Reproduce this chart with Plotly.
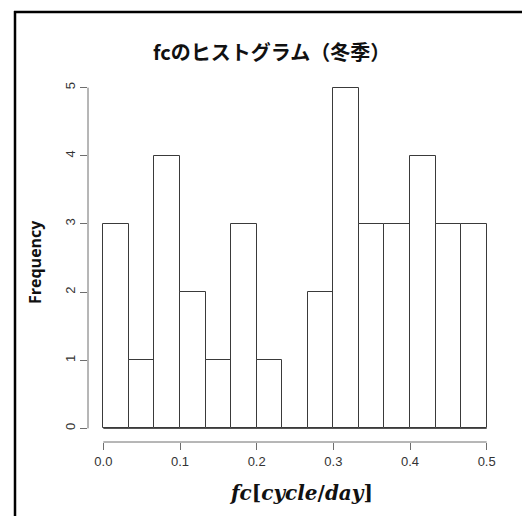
import numpy as np
import plotly.graph_objects as go

# ---- data ----
bin_start = 0.0
bin_end = 0.5
n_bins = 15
counts = [3, 1, 4, 2, 1, 3, 1, 0, 2, 5, 3, 3, 4, 3, 3]
x_ticks = [0.0, 0.1, 0.2, 0.3, 0.4, 0.5]
x_tick_labels = ["0.0", "0.1", "0.2", "0.3", "0.4", "0.5"]
y_ticks = [0, 1, 2, 3, 4, 5]
y_tick_labels = ["0", "1", "2", "3", "4", "5"]
title_text = "fcのヒストグラム（冬季）"
y_title = "Frequency"
x_title = "<b><i>fc</i>[<i>cycle</i>/<i>day</i>]</b>"

edges = np.linspace(bin_start, bin_end, n_bins + 1)
centers = (edges[:-1] + edges[1:]) / 2
width = edges[1] - edges[0]

# page has an 8px body margin -> work in reference pixels shifted by OFF
OFF = 8
W, H = 530 - OFF, 516 - OFF
ML, MR, MT, MB = 88 - OFF, 28, 74 - OFF, 74
PW, PH = W - ML - MR, H - MT - MB


def px2x(px):
    return (px - OFF - ML) / PW


def px2y(py):
    return (H - MB - (py - OFF)) / PH


axis_col = "#6e6e6e"
bar_col = "#3a3a3a"

fig = go.Figure()
fig.add_trace(go.Bar(
    x=centers, y=counts, width=width,
    marker=dict(color="white", line=dict(color=bar_col, width=1)),
    hoverinfo="x+y",
))

# baseline under the histogram (R draws zero-height bins as flat rects)
fig.add_shape(type="line", xref="x", yref="y",
              x0=edges[0], x1=edges[-1], y0=0, y1=0,
              line=dict(color=bar_col, width=1), layer="above")

xr = [bin_start - 0.04 * (bin_end - bin_start), bin_end + 0.04 * (bin_end - bin_start)]
yr = [-0.04 * max(counts), max(counts) * 1.04]

fig.update_layout(
    width=W, height=H,
    margin=dict(l=ML, r=MR, t=MT, b=MB, pad=0),
    plot_bgcolor="white", paper_bgcolor="white",
    showlegend=False,
    bargap=0,
    xaxis=dict(range=xr, tickvals=x_ticks, ticktext=x_tick_labels,
               showgrid=False, zeroline=False, showline=False,
               ticks="outside", ticklen=7, tickwidth=1, tickcolor=axis_col,
               tickfont=dict(family="Liberation Sans, Arial", size=13, color="#333333")),
    yaxis=dict(range=yr, tickvals=y_ticks, ticktext=y_tick_labels,
               showgrid=False, zeroline=False, showline=False,
               ticks="outside", ticklen=7, tickwidth=1, tickcolor=axis_col,
               tickangle=-90,
               tickfont=dict(family="Liberation Sans, Arial", size=13, color="#333333")),
)

# R-style axis lines spanning tick range only
fig.add_shape(type="line", xref="x", yref="paper",
              x0=x_ticks[0], x1=x_ticks[-1], y0=0, y1=0,
              line=dict(color=axis_col, width=1))
fig.add_shape(type="line", xref="paper", yref="y",
              x0=0, x1=0, y0=y_ticks[0], y1=y_ticks[-1],
              line=dict(color=axis_col, width=1))

# outer frame (screenshot border)
fig.add_shape(type="line", xref="paper", yref="paper",
              x0=px2x(15), x1=px2x(15), y0=px2y(11), y1=px2y(530),
              line=dict(color="black", width=2.5))
fig.add_shape(type="line", xref="paper", yref="paper",
              x0=px2x(14), x1=px2x(540), y0=px2y(12), y1=px2y(12),
              line=dict(color="black", width=2.5))

fig.add_annotation(text="<b>" + title_text + "</b>", xref="paper", yref="paper",
                   x=px2x(271), y=px2y(51), xanchor="center", yanchor="middle",
                   showarrow=False,
                   font=dict(family="Noto Sans CJK JP", size=20, color="#111111"))
fig.add_annotation(text="<b>" + y_title + "</b>", xref="paper", yref="paper",
                   x=px2x(35), y=px2y(262), xanchor="center", yanchor="middle",
                   textangle=-90, showarrow=False,
                   font=dict(family="Open Sans, Noto Sans", size=16, color="#111111"))
fig.add_annotation(text=x_title, xref="paper", yref="paper",
                   x=px2x(301), y=px2y(493), xanchor="center", yanchor="middle",
                   showarrow=False,
                   font=dict(family="DejaVu Serif", size=20, color="#111111"))

fig.write_html("out.html")
